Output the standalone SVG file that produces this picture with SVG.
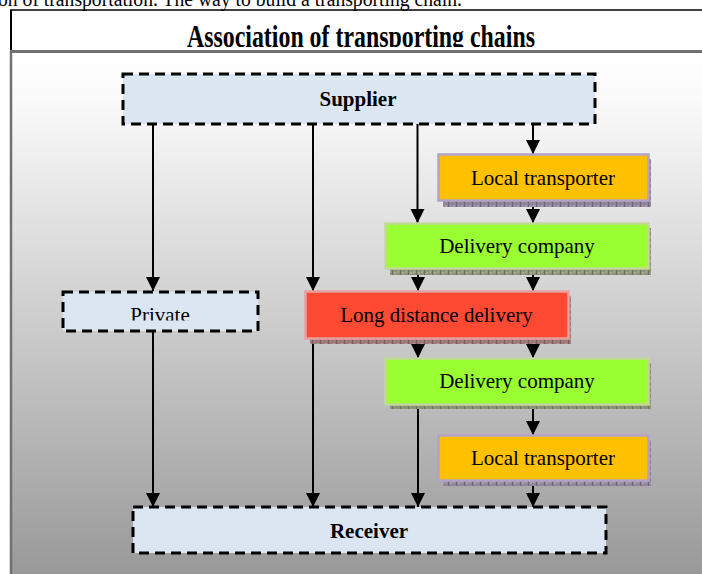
<svg xmlns="http://www.w3.org/2000/svg" width="702" height="574" viewBox="0 0 702 574">
  <defs>
    <linearGradient id="panelFill" x1="0" y1="53" x2="0" y2="574" gradientUnits="userSpaceOnUse">
      <stop offset="0" stop-color="#ffffff"/>
      <stop offset="0.09" stop-color="#fafafa"/>
      <stop offset="1" stop-color="#999999"/>
    </linearGradient>
    <pattern id="hatchPurple" width="8" height="6" patternUnits="userSpaceOnUse">
      <rect width="8" height="6" fill="#8f8699"/>
      <rect x="0" y="0" width="1" height="6" fill="#6e6679"/>
      <rect x="2" y="2" width="2" height="2" fill="#a8a0b2"/>
      <rect x="5" y="1" width="2" height="2" fill="#a8a0b2"/>
    </pattern>
    <pattern id="hatchGreen" width="8" height="6" patternUnits="userSpaceOnUse">
      <rect width="8" height="6" fill="#8b9279"/>
      <rect x="0" y="0" width="1" height="6" fill="#6c725d"/>
      <rect x="2" y="2" width="2" height="2" fill="#a5ab95"/>
      <rect x="5" y="1" width="2" height="2" fill="#a5ab95"/>
    </pattern>
    <pattern id="hatchRed" width="8" height="6" patternUnits="userSpaceOnUse">
      <rect width="8" height="6" fill="#9c7a7a"/>
      <rect x="0" y="0" width="1" height="6" fill="#7a5b5b"/>
      <rect x="2" y="2" width="2" height="2" fill="#b49494"/>
      <rect x="5" y="1" width="2" height="2" fill="#b49494"/>
    </pattern>
    <marker id="arrow" viewBox="0 0 14 15" refX="14" refY="7" markerWidth="14" markerHeight="15" markerUnits="userSpaceOnUse" orient="auto">
      <path d="M0,0 L14,7 L0,14 Z" fill="#000"/>
    </marker>
    <clipPath id="titleClip"><rect x="0" y="10" width="702" height="37"/></clipPath>
    <clipPath id="privateClip"><rect x="60" y="288" width="200" height="32.5"/></clipPath>
  </defs>
  <style>
    .caption { font-family: "Liberation Serif", "Times New Roman", serif; font-size: 20px; fill: #000; }
    .title { font-family: "Liberation Serif", "Times New Roman", serif; font-size: 24px; font-weight: bold; fill: #000; }
    .label { font-family: "Liberation Serif", "Times New Roman", serif; font-size: 21px; fill: #000; text-anchor: middle; }
    .bold { font-weight: bold; }
    .dashed { fill: #dce6f2; stroke: #000; stroke-width: 3; stroke-dasharray: 10 6; }
    .local { fill: #ffc000; stroke: #b3a2c7; stroke-width: 2.5; }
    .delivery { fill: #99ff33; stroke: #c3d69b; stroke-width: 2.5; }
    .long { fill: #ff4a33; stroke: #e6a0a0; stroke-width: 2.5; }
    .link { fill: none; stroke: #000; stroke-width: 2; marker-end: url(#arrow); }
  </style>

  <!-- page background and running text above the table -->
  <rect width="702" height="574" fill="#ffffff"/>
  <text class="caption" x="-2" y="6" textLength="464" lengthAdjust="spacingAndGlyphs">on of transportation. The way to build a transporting chain.</text>

  <!-- table frame: heading row and shaded body -->
  <rect x="11" y="53" width="691" height="521" fill="url(#panelFill)"/>
  <line x1="10" y1="10" x2="702" y2="10" stroke="#000" stroke-width="1.5"/>
  <line x1="11" y1="10" x2="11" y2="51" stroke="#000" stroke-width="2"/>
  <line x1="11" y1="51" x2="11" y2="574" stroke="#707070" stroke-width="2.5"/>
  <line x1="10" y1="51.5" x2="702" y2="51.5" stroke="#707070" stroke-width="3"/>
  <g clip-path="url(#titleClip)">
    <text class="title" x="187" y="47.5" textLength="348" lengthAdjust="spacingAndGlyphs" transform="translate(0,47.5) scale(1,1.3) translate(0,-47.5)">Association of transporting chains</text>
  </g>

  <!-- connectors -->
  <g id="connectors">
    <path class="link" d="M153,124 V291"/>
    <path class="link" d="M313,124 V291"/>
    <path class="link" d="M417.5,124 V223"/>
    <path class="link" d="M533,124 V154"/>
    <path class="link" d="M533,201 V223"/>
    <path class="link" d="M418,269 V291"/>
    <path class="link" d="M533,269 V291"/>
    <path class="link" d="M153,331 V507"/>
    <path class="link" d="M313,339 V507"/>
    <path class="link" d="M418,339 V358"/>
    <path class="link" d="M533,339 V358"/>
    <path class="link" d="M418,405 V507"/>
    <path class="link" d="M533,405 V435"/>
    <path class="link" d="M533,480 V507"/>
  </g>

  <!-- nodes -->
  <g id="supplier">
    <rect class="dashed" x="123" y="74" width="472" height="50"/>
    <text class="label bold" x="358" y="106">Supplier</text>
  </g>

  <g id="local-transporter-1">
    <rect x="443" y="159" width="208" height="48" fill="url(#hatchPurple)"/>
    <rect class="local" x="438.5" y="154.5" width="210" height="46"/>
    <text class="label" x="543" y="185">Local transporter</text>
  </g>

  <g id="delivery-company-1">
    <rect x="390" y="228" width="261" height="47" fill="url(#hatchGreen)"/>
    <rect class="delivery" x="385.5" y="223.5" width="263" height="45"/>
    <text class="label" x="517" y="253">Delivery company</text>
  </g>

  <g id="private">
    <rect class="dashed" x="63" y="292" width="195" height="39"/>
    <g clip-path="url(#privateClip)">
      <text class="label" x="160" y="322">Private</text>
    </g>
  </g>

  <g id="long-distance-delivery">
    <rect x="310" y="296" width="261" height="48" fill="url(#hatchRed)"/>
    <rect class="long" x="305.5" y="291.5" width="263" height="47"/>
    <text class="label" x="436.5" y="322">Long distance delivery</text>
  </g>

  <g id="delivery-company-2">
    <rect x="390" y="363" width="261" height="46" fill="url(#hatchGreen)"/>
    <rect class="delivery" x="385.5" y="358.5" width="263" height="46"/>
    <text class="label" x="517" y="388">Delivery company</text>
  </g>

  <g id="local-transporter-2">
    <rect x="443" y="440" width="208" height="46" fill="url(#hatchPurple)"/>
    <rect class="local" x="438.5" y="435.5" width="210" height="45"/>
    <text class="label" x="543" y="465">Local transporter</text>
  </g>

  <g id="receiver">
    <rect class="dashed" x="133" y="507" width="473" height="46"/>
    <text class="label bold" x="369" y="538">Receiver</text>
  </g>
</svg>
